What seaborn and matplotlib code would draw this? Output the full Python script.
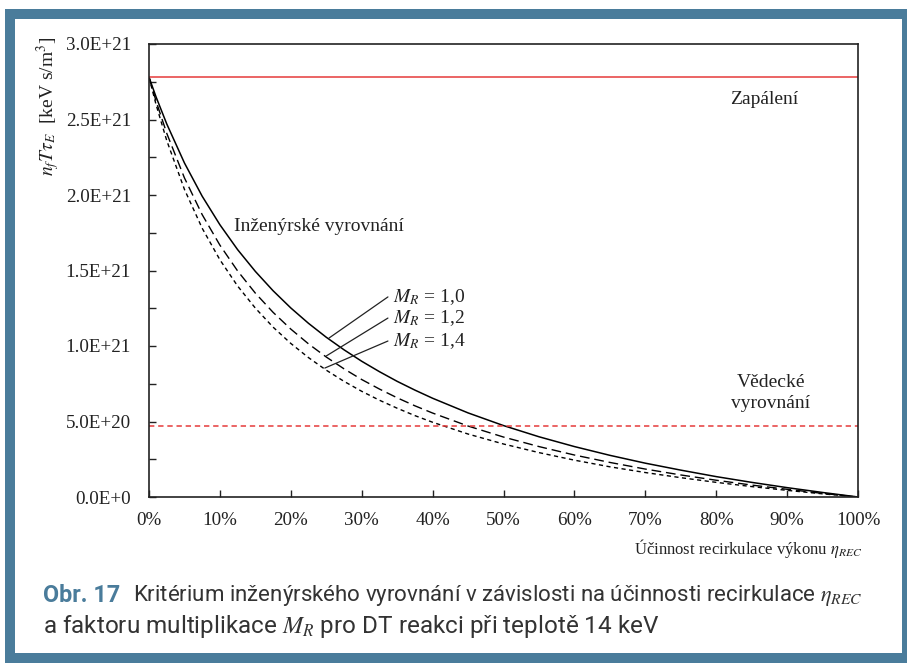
import matplotlib
matplotlib.use("Agg")
import matplotlib.pyplot as plt
import seaborn as sns
import pandas as pd
from matplotlib.patches import Rectangle

# Data (y values in units of 1E+21 keV s/m^3)
eta = [0, 1, 2.5, 5, 7.5, 10, 12.5, 15, 17.5, 20, 22.5, 25, 27.5, 30, 32.5, 35, 37.5, 40,
       45, 50, 55, 60, 65, 70, 75, 80, 85, 90, 95, 100]
mr_10 = [2.78, 2.649, 2.471, 2.212, 1.992, 1.803, 1.638, 1.494, 1.366, 1.252, 1.150, 1.058,
         0.975, 0.899, 0.830, 0.766, 0.708, 0.654,
         0.557, 0.473, 0.399, 0.334, 0.276, 0.224, 0.178, 0.135, 0.097, 0.062, 0.030, 0.0]
mr_12 = [2.78, 2.621, 2.409, 2.113, 1.870, 1.668, 1.497, 1.350, 1.223, 1.112, 1.014, 0.927,
         0.849, 0.778, 0.715, 0.657, 0.604, 0.556,
         0.470, 0.397, 0.334, 0.278, 0.229, 0.185, 0.146, 0.111, 0.079, 0.051, 0.024, 0.0]
mr_14 = [2.78, 2.598, 2.361, 2.037, 1.780, 1.571, 1.397, 1.251, 1.125, 1.017, 0.923, 0.840,
         0.766, 0.700, 0.641, 0.588, 0.539, 0.495,
         0.417, 0.351, 0.294, 0.244, 0.200, 0.162, 0.128, 0.097, 0.069, 0.044, 0.021, 0.0]
ignition = 2.78
sci_breakeven = 0.47

y_ticks = [0, 0.5, 1.0, 1.5, 2.0, 2.5, 3.0]
y_labels = ["0.0E+0", "5.0E+20", "1.0E+21", "1.5E+21", "2.0E+21", "2.5E+21", "3.0E+21"]
x_ticks = [0, 10, 20, 30, 40, 50, 60, 70, 80, 90, 100]
x_labels = [f"{t}%" for t in x_ticks]

df = pd.DataFrame({"eta": eta, "1,0": mr_10, "1,2": mr_12, "1,4": mr_14})

sns.set_theme(style="ticks")
plt.rcParams["font.family"] = ["Liberation Serif", "DejaVu Serif"]
plt.rcParams["mathtext.fontset"] = "stix"

blue = "#4a7c9b"
red = "#e63a3a"
ink = "#222222"
W, H = 907, 664

fig = plt.figure(figsize=(W / 100, H / 100), dpi=100)
fig.patch.set_facecolor("white")
ax = fig.add_axes([149 / W, 1 - 497 / H, (858 - 149) / W, (497 - 44) / H])

# curves
sns.lineplot(data=df, x="eta", y="1,0", ax=ax, color="black", linewidth=1.1)
sns.lineplot(data=df, x="eta", y="1,2", ax=ax, color="black", linewidth=1.0,
             linestyle=(0, (7, 3.5)))
sns.lineplot(data=df, x="eta", y="1,4", ax=ax, color="black", linewidth=1.0,
             linestyle=(0, (3, 2.5)))

# reference levels
ax.axhline(ignition, color=red, linewidth=1.1)
ax.axhline(sci_breakeven, color=red, linewidth=1.1, linestyle=(0, (3.5, 2.5)))

ax.set_xlim(0, 100)
ax.set_ylim(0, 3.0)
ax.set_xticks(x_ticks)
ax.set_xticklabels(x_labels)
ax.set_yticks(y_ticks)
ax.set_yticklabels(y_labels)
ax.set_yticks([0.25, 0.75, 1.25, 1.75, 2.25, 2.75], minor=True)
ax.tick_params(axis="both", which="both", direction="in", length=5, width=1,
               color=ink, labelsize=13.7, labelcolor=ink)
ax.tick_params(axis="y", which="major", pad=13)
ax.tick_params(axis="x", which="major", pad=11)
ax.set_xlabel("")
ax.set_ylabel("")
for s in ax.spines.values():
    s.set_visible(True)
    s.set_linewidth(1.2)
    s.set_color(ink)

# annotations
txt = dict(fontsize=14, color=ink)
ax.text(86.7, 2.63, "Zapálení", ha="center", va="center", **txt)
ax.text(12.0, 1.79, "Inženýrské vyrovnání", ha="left", va="center", **txt)
ax.text(87.7, 0.69, "Vědecké\nvyrovnání", ha="center", va="center",
        linespacing=1.3, **txt)

label_y = [1.325, 1.185, 1.033]
curve_pts = [(25.4, 1.053), (25.0, 0.934), (24.8, 0.854)]
for name, ly, (cx, cy) in zip(["1,0", "1,2", "1,4"], label_y, curve_pts):
    ax.plot([cx, 33.7], [cy, ly], color=ink, linewidth=0.9)
    ax.text(34.4, ly, f"$M_R$ = {name}", ha="left", va="center", **txt)

fig.text(48 / W, 1 - 37 / H, r"$n_f T\tau_E$  [keV s/m$^3$]", rotation=90,
         ha="center", va="top", fontsize=14, color=ink)
fig.text(862 / W, 1 - 549 / H, r"Účinnost recirkulace výkonu $\eta_{REC}$",
         ha="right", va="center", fontsize=12, color=ink)

# caption, sized to span the same width as the original
sans = ["Roboto", "DejaVu Sans"]
renderer = fig.canvas.get_renderer()


def fit_text(x0, x1, y, s, **kw):
    t = fig.text(x0 / W, 1 - y / H, s, ha="left", va="center", fontsize=12,
                 family=sans, **kw)
    w = t.get_window_extent(renderer).width
    t.set_fontsize(12 * (x1 - x0) / w)
    return t


fit_text(43, 120, 595, "Obr. 17", fontweight="bold", color=blue)
fit_text(133, 862, 595,
         r"Kritérium inženýrského vyrovnání v závislosti na účinnosti recirkulace $\eta_{REC}$",
         color="#333333")
fit_text(43, 659, 627, r"a faktoru multiplikace $M_R$ pro DT reakci při teplotě 14 keV",
         color="#333333")

# blue frame
fig.patches.append(Rectangle((10 / W, 6 / H), 1 - 10 / W, 1 - 20 / H,
                             transform=fig.transFigure, fill=False, edgecolor=blue,
                             linewidth=7.2, zorder=10))

fig.savefig("out.png", dpi=100)
